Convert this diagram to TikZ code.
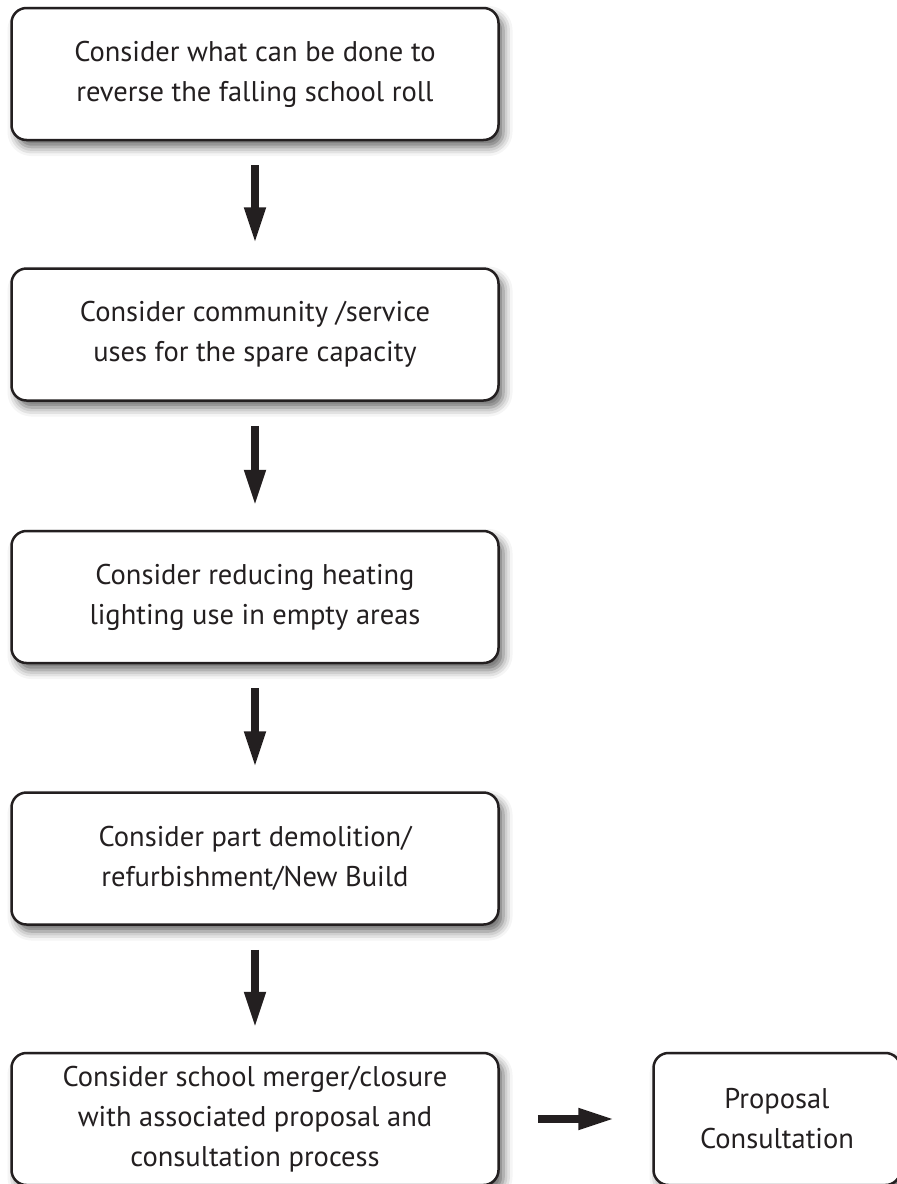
\documentclass[tikz,border=0pt]{standalone}
\usepackage{fontspec}
\setmainfont{PT Sans}
\usetikzlibrary{arrows.meta,shadows.blur,positioning}
\definecolor{ink}{HTML}{231F20}
\tikzset{stepbox/.style={draw=ink,line width=2.5pt,rounded corners=15pt,fill=white,
    minimum width=487pt,minimum height=132pt,align=center,text=ink,
    font=\fontsize{28.5}{40}\selectfont,
    blur shadow={shadow xshift=5pt,shadow yshift=-7pt,shadow blur radius=9pt,shadow opacity=60}},
  bigarrow/.style={draw=ink,line width=7.5pt,-{Triangle[length=36pt,width=20pt]},
    shorten >=24pt,shorten <=24pt}}

\begin{document}
\begin{tikzpicture}[x=1pt,y=-1pt]
  \useasboundingbox (0,0) rectangle (897,1184);
  \node[stepbox] (s1) at (255,74) {Consider what can be done to\\reverse the falling school roll};
  \node[stepbox] (s2) at (255,334.5) {Consider community /service\\uses for the spare capacity};
  \node[stepbox] (s3) at (255,597) {Consider reducing heating\\lighting use in empty areas};
  \node[stepbox] (s4) at (255,858.5) {Consider part demolition/\\refurbishment/New Build};
  \node[stepbox] (s5) at (255,1119) {Consider school merger/closure\\with associated proposal and\\consultation process};
  \node[stepbox,minimum width=247pt] (prop) at (777,1119) {Proposal\\Consultation};
  \foreach \a/\b in {s1/s2,s2/s3,s3/s4,s4/s5} { \draw[bigarrow] (\a) -- (\b); }
  \draw[bigarrow,shorten <=38pt,shorten >=38pt] (s5) -- (prop);
\end{tikzpicture}
\end{document}
